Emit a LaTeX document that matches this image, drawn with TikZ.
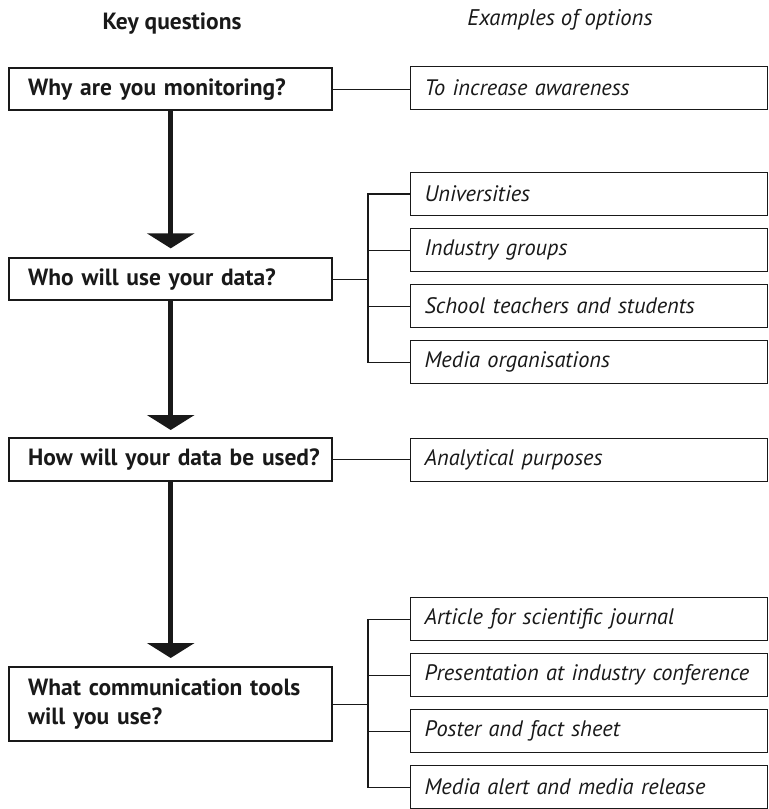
\documentclass[tikz,border=0pt]{standalone}
\usepackage{fontspec}
\setmainfont{PT Sans}
\usetikzlibrary{arrows.meta}
\hbadness=10000 \hfuzz=50pt
\tikzset{
  x=0.75pt, y=-0.75pt,
  qbox/.style={draw=black!90, line width=1.8pt, anchor=north west, inner xsep=14.25pt, inner ysep=0pt,
    text width=213.75pt, align=left, minimum height=31.5pt, font=\bfseries\fontsize{17.6}{21.75}\selectfont, text=black!90},
  obox/.style={draw=black!90, line width=0.9pt, anchor=north west, inner xsep=10.5pt, inner ysep=0pt,
    text width=246.75pt, align=left, minimum height=32.25pt, font=\itshape\fontsize{16.8}{19}\selectfont, text=black!90},
  link/.style={draw=black!90, line width=0.9pt},
  bigarrow/.style={draw=black!90, line width=3.75pt, -{Triangle[width=35.25pt, length=11.25pt]}},
  headq/.style={font=\bfseries\fontsize{17.6}{20}\selectfont, text=black!90},
  heado/.style={font=\itshape\fontsize{17}{19}\selectfont, text=black!90}
}
\begin{document}
\begin{tikzpicture}
\useasboundingbox (0,0) rectangle (768,809);
\node[headq] (hq) at (172,24) {Key questions};
\node[heado] (ho) at (560,20) {Examples of options};
% question boxes
\node[qbox] (q1) at (8,67) {\mbox{Why are you monitoring?}};
\node[qbox] (q2) at (8,257) {\mbox{Who will use your data?}};
\node[qbox, minimum height=32.25pt] (q3) at (8,437) {\mbox{How will your data be used?}};
\node[qbox, minimum height=55.5pt] (q4) at (8,666) {\mbox{What communication tools}\\\mbox{will you use?}};
% option boxes
\node[obox] (o1) at (410,66) {To increase awareness};
\node[obox] (o2a) at (410,172) {Universities};
\node[obox] (o2b) at (410,228) {Industry groups};
\node[obox] (o2c) at (410,284) {School teachers and students};
\node[obox] (o2d) at (410,340) {Media organisations};
\node[obox] (o3) at (410,438) {Analytical purposes};
\node[obox] (o4a) at (410,597) {Article for scientific journal};
\node[obox] (o4b) at (410,653) {Presentation at industry conference};
\node[obox] (o4c) at (410,709) {Poster and fact sheet};
\node[obox] (o4d) at (410,765) {Media alert and media release};
% arrows
\draw[bigarrow] (q1.south) -- ([yshift=6.5pt]q2.north);
\draw[bigarrow] (q2.south) -- ([yshift=5.25pt]q3.north);
\draw[bigarrow] (q3.south) -- ([yshift=6pt]q4.north);
% connectors
\draw[link] (q1.east) -- (q1.east -| o1.west);
\draw[link] (q3.east) -- (q3.east -| o3.west);
\coordinate (j2) at (368,278);
\coordinate (j4) at (368,703);
\draw[link] (q2.east) -- (q2.east -| j2);
\draw[link] (o2a.west) -- (o2a.west -| j2) -- (o2d.west -| j2) -- (o2d.west);
\draw[link] (o2b.west) -- (o2b.west -| j2);
\draw[link] (o2c.west) -- (o2c.west -| j2);
\draw[link] (q4.east) -- (q4.east -| j4);
\draw[link] (o4a.west) -- (o4a.west -| j4) -- (o4d.west -| j4) -- (o4d.west);
\draw[link] (o4b.west) -- (o4b.west -| j4);
\draw[link] (o4c.west) -- (o4c.west -| j4);
\end{tikzpicture}
\end{document}
